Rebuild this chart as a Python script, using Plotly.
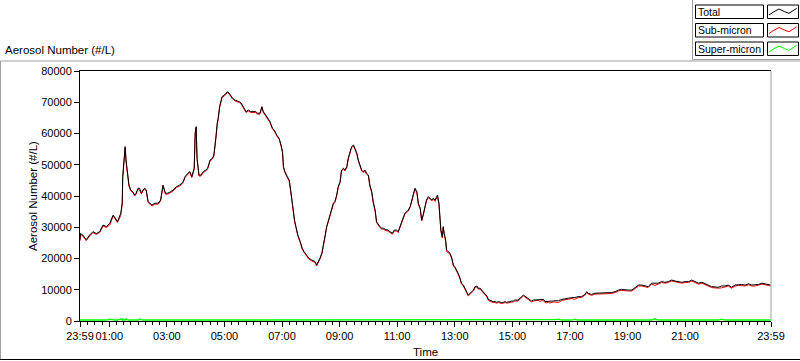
import plotly.graph_objects as go

# ---------------- data ----------------
times = [
    "23:59", "00:00", "00:05", "00:12", "00:19", "00:26", "00:33", "00:40", "00:47", "00:54",
    "01:01", "01:08", "01:11", "01:17", "01:24", "01:27", "01:28", "01:31", "01:33", "01:35",
    "01:38", "01:41", "01:45", "01:49", "01:53", "01:56", "02:00", "02:03", "02:07", "02:10",
    "02:14", "02:17", "02:21", "02:24", "02:29", "02:35", "02:42", "02:47", "02:52", "02:57",
    "03:02", "03:08", "03:13", "03:20", "03:27", "03:34", "03:38", "03:44", "03:48", "03:52",
    "03:57", "03:59", "04:01", "04:03", "04:06", "04:07", "04:11", "04:16", "04:21", "04:25",
    "04:30", "04:35", "04:38", "04:40", "04:42", "04:45", "04:47", "04:50", "04:53", "04:55",
    "05:00", "05:03", "05:06", "05:10", "05:14", "05:17", "05:22", "05:27", "05:31", "05:35",
    "05:38", "05:41", "05:45", "05:50", "05:55", "06:00", "06:05", "06:09", "06:14", "06:18",
    "06:21", "06:26", "06:30", "06:35", "06:40", "06:44", "06:49", "06:54", "06:58", "07:01",
    "07:03", "07:06", "07:11", "07:15", "07:18", "07:21", "07:23", "07:26", "07:29", "07:33",
    "07:38", "07:42", "07:46", "07:51", "07:56", "08:02", "08:09", "08:12", "08:16", "08:19",
    "08:23", "08:26", "08:30", "08:33", "08:36", "08:40", "08:44", "08:47", "08:50", "08:54",
    "08:57", "09:01", "09:04", "09:08", "09:11", "09:15", "09:18", "09:22", "09:25", "09:29",
    "09:32", "09:36", "09:39", "09:43", "09:46", "09:49", "09:53", "09:56", "10:00", "10:03",
    "10:07", "10:10", "10:14", "10:17", "10:21", "10:24", "10:28", "10:31", "10:35", "10:38",
    "10:41", "10:45", "10:50", "10:54", "10:59", "11:02", "11:06", "11:09", "11:13", "11:16",
    "11:20", "11:23", "11:27", "11:30", "11:34", "11:37", "11:41", "11:44", "11:48", "11:51",
    "11:54", "11:58", "12:01", "12:05", "12:08", "12:12", "12:15", "12:19", "12:22", "12:24",
    "12:27", "12:29", "12:31", "12:34", "12:36", "12:38", "12:41", "12:43", "12:47", "12:50",
    "12:54", "12:57", "13:00", "13:04", "13:07", "13:11", "13:14", "13:18", "13:21", "13:25",
    "13:28", "13:32", "13:35", "13:39", "13:42", "13:46", "13:49", "13:53", "13:56", "13:59",
    "14:03", "14:07", "14:10", "14:13", "14:17", "14:20", "14:24", "14:27", "14:31", "14:34",
    "14:38", "14:41", "14:45", "14:48", "14:52", "14:55", "14:59", "15:02", "15:05", "15:09",
    "15:12", "15:16", "15:19", "15:23", "15:26", "15:30", "15:33", "15:37", "15:40", "15:44",
    "15:47", "15:51", "15:54", "15:58", "16:01", "16:05", "16:08", "16:12", "16:15", "16:18",
    "16:22", "16:25", "16:29", "16:36", "16:43", "16:50", "16:57", "17:04", "17:10", "17:17",
    "17:24", "17:31", "17:35", "17:38", "17:45", "17:52", "17:59", "18:06", "18:13", "18:20",
    "18:27", "18:34", "18:41", "18:48", "18:55", "19:02", "19:09", "19:16", "19:23", "19:30",
    "19:36", "19:43", "19:50", "19:57", "20:04", "20:11", "20:18", "20:25", "20:32", "20:39",
    "20:46", "20:53", "21:00", "21:07", "21:14", "21:21", "21:28", "21:35", "21:41", "21:48",
    "21:55", "22:02", "22:09", "22:16", "22:23", "22:30", "22:37", "22:44", "22:51", "22:58",
    "23:05", "23:12", "23:19", "23:26", "23:33", "23:40", "23:47", "23:53", "23:58",
]

total = [
    26000, 28000, 27500, 26000, 27500, 28600, 28000, 28600, 30700, 30200,
    31300, 33900, 33300, 31800, 34500, 37800, 46200, 51500, 55800, 51500,
    46700, 43500, 41900, 41400, 40300, 40900, 42500, 42500, 40900, 41900,
    42500, 41900, 38200, 37700, 37100, 37700, 37700, 38700, 43500, 40900,
    40900, 41400, 41900, 43000, 43500, 44600, 46200, 47300, 47800, 46200,
    48900, 60100, 62200, 52000, 47800, 46700, 46700, 47800, 48300, 48900,
    51500, 52100, 53100, 56900, 58500, 63300, 64900, 68600, 71300, 71800,
    72300, 72900, 73400, 72900, 71800, 71300, 70700, 70500, 70200, 69700,
    68600, 68100, 67000, 67500, 67000, 67000, 67000, 66500, 66500, 68600,
    67000, 65900, 64900, 63800, 61700, 61100, 59500, 58500, 56300, 54200,
    49400, 47800, 46200, 45100, 41900, 37700, 34500, 32300, 30200, 27500,
    25400, 23300, 22200, 21100, 20100, 19500, 19000, 17900, 19000, 20100,
    21700, 24900, 27500, 30200, 31800, 33900, 35500, 37700, 38200, 40300,
    43000, 44600, 48300, 48900, 48300, 49400, 52100, 54700, 55800, 56300,
    55300, 53700, 51500, 49900, 48300, 47800, 48300, 47300, 46700, 43500,
    41400, 38200, 35500, 31800, 30700, 30200, 29700, 29700, 29300, 29300,
    29100, 28600, 28100, 29100, 29100, 28600, 30200, 31800, 33400, 34500,
    35000, 35500, 36600, 38200, 40300, 42500, 41400, 37700, 36100, 32300,
    33900, 37100, 38700, 39800, 39300, 38700, 39300, 38700, 39800, 40300,
    37700, 34500, 29100, 27000, 30200, 28100, 25900, 22700, 22200, 21700,
    20100, 17900, 17400, 16300, 15300, 13700, 12100, 11500, 10500, 9400,
    8300, 8900, 9400, 9900, 11000, 11200, 10500, 10500, 9900, 9400,
    8900, 8000, 6900, 6700, 6500, 6200, 6200, 6000, 6200, 6000,
    5900, 6000, 6200, 6000, 6000, 6200, 6400, 6400, 6700, 6700,
    6700, 7300, 7800, 8300, 8000, 7500, 7300, 6700, 6400, 6700,
    6700, 6700, 6900, 6700, 6900, 6900, 6200, 6200, 6400, 6200,
    6400, 6400, 6500, 6500, 6900, 7000, 7300, 7500, 7500, 7800,
    7800, 8500, 9400, 8900, 8500, 8900, 8900, 9100, 9100, 9100,
    9100, 9400, 9900, 10100, 9900, 9900, 9900, 10800, 11500, 11500,
    11200, 11000, 12100, 12100, 12100, 12600, 12400, 12600, 13100, 12800,
    12600, 12400, 12600, 12600, 13100, 12600, 12100, 12400, 12100, 11500,
    11000, 10800, 10800, 11200, 11200, 11500, 10800, 11500, 11700, 11700,
    11500, 11900, 11500, 11500, 11700, 12100, 11900, 11700, 11500,
]

super_micron = [
    300, 300, 300, 300, 300, 300, 300, 300, 300, 300,
    600, 300, 300, 300, 700, 300, 600, 300, 300, 700,
    300, 300, 300, 300, 300, 300, 300, 600, 300, 300,
    300, 300, 300, 300, 300, 300, 300, 300, 300, 300,
    300, 300, 300, 300, 300, 300, 300, 300, 300, 300,
    300, 300, 300, 300, 300, 300, 300, 300, 300, 300,
    300, 300, 300, 300, 300, 300, 300, 300, 300, 300,
    300, 300, 300, 300, 300, 300, 300, 300, 300, 300,
    300, 300, 300, 300, 300, 300, 300, 300, 300, 300,
    300, 300, 300, 300, 300, 300, 300, 300, 300, 300,
    300, 300, 300, 300, 300, 300, 300, 300, 300, 300,
    300, 300, 300, 300, 300, 300, 300, 300, 300, 300,
    300, 300, 300, 300, 300, 300, 300, 300, 300, 300,
    300, 300, 300, 300, 300, 300, 300, 300, 300, 300,
    300, 300, 300, 300, 300, 300, 300, 300, 300, 300,
    300, 300, 300, 300, 300, 300, 300, 300, 300, 300,
    300, 300, 300, 300, 300, 300, 300, 300, 300, 300,
    300, 300, 300, 300, 300, 300, 300, 300, 300, 300,
    300, 300, 300, 300, 300, 300, 300, 450, 300, 500,
    350, 500, 300, 450, 300, 500, 350, 450, 300, 300,
    300, 300, 300, 300, 300, 300, 300, 300, 300, 300,
    300, 300, 300, 300, 300, 300, 300, 300, 300, 300,
    300, 300, 300, 300, 300, 300, 300, 300, 300, 300,
    300, 300, 300, 300, 300, 300, 300, 300, 300, 300,
    300, 300, 300, 300, 300, 300, 300, 300, 300, 300,
    300, 300, 300, 450, 350, 450, 300, 400, 350, 450,
    400, 350, 450, 600, 300, 300, 300, 300, 600, 300,
    300, 300, 300, 300, 300, 300, 300, 300, 300, 300,
    300, 300, 300, 300, 300, 300, 300, 300, 300, 300,
    300, 300, 300, 700, 300, 300, 300, 300, 300, 300,
    300, 300, 300, 300, 300, 300, 300, 300, 300, 300,
    300, 300, 300, 600, 300, 300, 300, 300, 300, 300,
    300, 300, 300, 300, 300, 300, 300, 300, 300,
]

sub_micron = [t - s for t, s in zip(total, super_micron)]

tick_labels = ["23:59", "01:00", "03:00", "05:00", "07:00", "09:00", "11:00",
               "13:00", "15:00", "17:00", "19:00", "21:00", "23:59"]

series_names = ["Total", "Sub-micron", "Super-micron"]
series_colors = ["#000000", "#ff0000", "#00ff00"]

# ---------------- helpers ----------------
DAY1, DAY2 = "2024-01-01", "2024-01-02"


def stamp(i, hhmm):
    return f"{DAY1 if i == 0 else DAY2} {hhmm}"


x_dates = [stamp(i, t) for i, t in enumerate(times)]
tick_vals = [stamp(i, t) for i, t in enumerate(tick_labels)]

L, R, T, B = 80, 29, 71, 40
W, H = 800, 361
PW, PH = W - L - R, H - T - B


def px(x):
    return (x - L) / PW


def py(y):
    return (H - B - y) / PH


FONT = "Liberation Sans, Arial, sans-serif"

fig = go.Figure()
fig.add_trace(go.Scatter(x=x_dates, y=super_micron, mode="lines",
                         line=dict(color=series_colors[2], width=1.4),
                         name=series_names[2], hoverinfo="skip"))
fig.add_trace(go.Scatter(x=x_dates, y=sub_micron, mode="lines",
                         line=dict(color=series_colors[1], width=1),
                         name=series_names[1], hoverinfo="skip"))
fig.add_trace(go.Scatter(x=x_dates, y=total, mode="lines",
                         line=dict(color=series_colors[0], width=1),
                         name=series_names[0], hoverinfo="skip"))

fig.update_layout(
    width=W, height=H,
    margin=dict(l=L, r=R, t=T, b=B, autoexpand=False),
    paper_bgcolor="white", plot_bgcolor="white",
    showlegend=False,
    font=dict(family=FONT, size=11, color="black"),
    xaxis=dict(
        type="date", range=[tick_vals[0], tick_vals[-1]],
        tickmode="array", tickvals=tick_vals, ticktext=tick_labels, tickangle=0,
        ticks="outside", ticklen=5, tickcolor="black",
        showline=True, linecolor="black", linewidth=1, mirror=True,
        showgrid=False, zeroline=False, layer="below traces", automargin=False,
        minor=dict(ticks="outside", ticklen=3, tickcolor="black",
                   dtick=15 * 60 * 1000, tick0=f"{DAY2} 01:00", showgrid=False),
    ),
    yaxis=dict(
        range=[0, 80000], dtick=10000, tickformat="d",
        ticks="outside", ticklen=5, tickcolor="black",
        showline=True, linecolor="black", linewidth=1, automargin=False,
        showgrid=False, zeroline=False, layer="below traces",
    ),
)

shapes = []
# right border of plot (grey)
shapes.append(dict(type="line", xref="paper", yref="paper", x0=1, x1=1, y0=0, y1=1,
                   line=dict(color="#a0a0a0", width=1)))
# outer panel frame
shapes.append(dict(type="line", xref="paper", yref="paper", x0=px(0), x1=px(800),
                   y0=py(61), y1=py(61), line=dict(color="#a0a0a0", width=1)))
shapes.append(dict(type="line", xref="paper", yref="paper", x0=px(0.5), x1=px(0.5),
                   y0=py(61), y1=py(359), line=dict(color="#a0a0a0", width=1)))
shapes.append(dict(type="line", xref="paper", yref="paper", x0=px(0), x1=px(800),
                   y0=py(359.5), y1=py(359.5), line=dict(color="black", width=1)))
# legend panel frame
shapes.append(dict(type="line", xref="paper", yref="paper", x0=px(692.5), x1=px(692.5),
                   y0=py(0), y1=py(59.5), line=dict(color="#a0a0a0", width=1)))
shapes.append(dict(type="line", xref="paper", yref="paper", x0=px(692.5), x1=px(800),
                   y0=py(59.5), y1=py(59.5), line=dict(color="#a0a0a0", width=1)))

annotations = []
row_tops = [5, 23.5, 42]
row_h = 13.5
wave = [(2, 10), (7, 6.7), (12, 4), (17.7, 6.7), (22, 8.3), (29.7, 3.3)]
for name, color, top in zip(series_names, series_colors, row_tops):
    shapes.append(dict(type="rect", xref="paper", yref="paper",
                       x0=px(695.5), x1=px(763.5), y0=py(top), y1=py(top + row_h),
                       line=dict(color="black", width=1), fillcolor="white"))
    shapes.append(dict(type="rect", xref="paper", yref="paper",
                       x0=px(767.5), x1=px(798.5), y0=py(top), y1=py(top + row_h),
                       line=dict(color="black", width=1), fillcolor="white"))
    path = " ".join(("M" if k == 0 else "L") + f"{px(767 + dx):.5f},{py(top + dy):.5f}"
                    for k, (dx, dy) in enumerate(wave))
    shapes.append(dict(type="path", xref="paper", yref="paper", path=path,
                       line=dict(color=color, width=1)))
    annotations.append(dict(text=name, xref="paper", yref="paper",
                            x=px(696), y=py(top + row_h / 2), xanchor="left", yanchor="middle",
                            showarrow=False, font=dict(size=10.5)))

annotations.append(dict(text="Aerosol Number (#/L)", xref="paper", yref="paper",
                        x=px(3), y=py(50), xanchor="left", yanchor="middle",
                        showarrow=False, font=dict(size=11.5)))
annotations.append(dict(text="Aerosol Number (#/L)", xref="paper", yref="paper",
                        x=px(33), y=0.5, xanchor="center", yanchor="middle", textangle=-90,
                        showarrow=False, font=dict(size=11.5)))
annotations.append(dict(text="Time", xref="paper", yref="paper",
                        x=px(425), y=py(351.5), xanchor="center", yanchor="middle",
                        showarrow=False, font=dict(size=11.5)))

fig.update_layout(shapes=shapes, annotations=annotations)

fig.write_html("out.html",
               config={"displayModeBar": False},
               post_script="document.body.style.margin='0';document.body.style.overflow='hidden';")
